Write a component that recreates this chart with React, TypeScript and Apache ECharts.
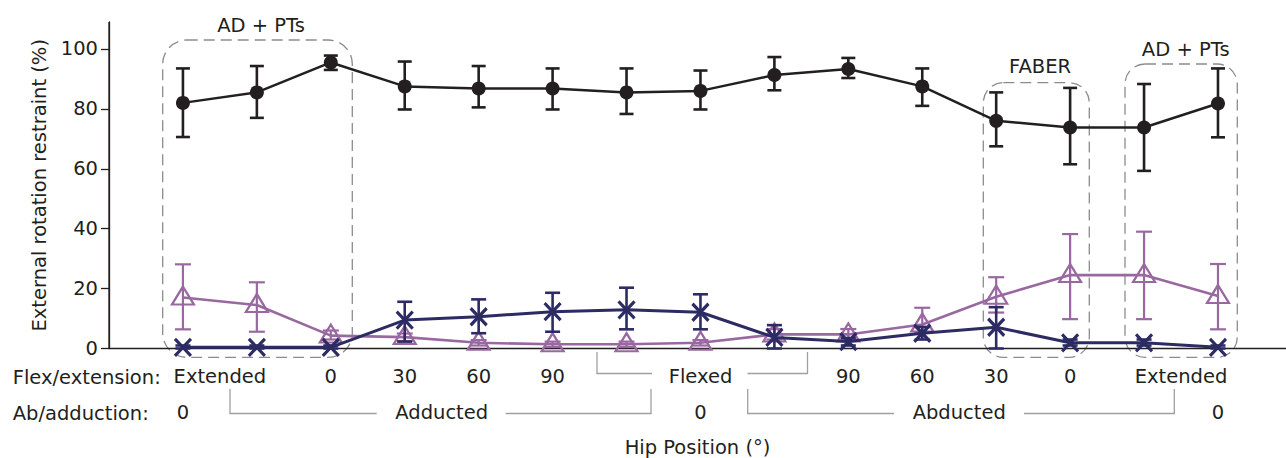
import React, { useEffect, useRef } from "react";
import * as echarts from "echarts";

// ---- data ----
const positions = [0, 1, 2, 3, 4, 5, 6, 7, 8, 9, 10, 11, 12, 13, 14];

const blackValues = [82, 85.5, 95.5, 87.5, 86.8, 86.8, 85.5, 86, 91.3, 93.3, 87.5, 76, 73.8, 73.8, 81.8];
const blackLow = [70.6, 77, 93, 79.8, 80.5, 79.8, 78.3, 79.8, 86.2, 90.3, 81, 67.5, 61.5, 59.3, 70.5];
const blackHigh = [93.5, 94.3, 97.8, 95.8, 94.3, 93.5, 93.5, 92.8, 97.3, 97, 93.5, 85.5, 87, 88.3, 93.5];

const purpleValues = [17, 14.5, 4.3, 3.8, 1.9, 1.4, 1.4, 1.9, 4.7, 4.7, 8, 17.3, 24.5, 24.5, 17.5];
const purpleLow = [6.4, 5.6, 3, 2.5, 1, 0.5, 0.5, 1, 3, 3, 5.5, 12, 9.8, 9.8, 6.4];
const purpleHigh = [28.1, 22.1, 6, 5, 2.8, 2.3, 2.3, 2.8, 6.5, 6.5, 13.6, 23.8, 38.2, 39, 28.2];

const navyValues = [0.4, 0.4, 0.4, 9.5, 10.6, 12.3, 12.9, 12.1, 3.7, 2.3, 5.1, 7.1, 1.9, 1.9, 0.4];
const navyLow = [0, 0, 0, 2.3, 5.1, 5.6, 6.4, 6.4, 0, 1, 3, 0, 1, 1, 0];
const navyHigh = [1, 1, 1, 15.6, 16.4, 18.6, 20.3, 18.1, 7.8, 3.5, 7.2, 13.8, 3, 3, 1];

const yTicks = [0, 20, 40, 60, 80, 100];
const Y_MIN = 0;
const Y_MAX = 109;
const X_MIN = -1;
const X_MAX = 14.92;

const flexTickValues = [0.5, 2, 3, 4, 5, 7, 9, 10, 11, 12, 13.5];
const flexTickLabels = ["Extended", "0", "30", "60", "90", "Flexed", "90", "60", "30", "0", "Extended"];

const abTickValues = [0, 3.5, 7, 10.5, 14];
const abTickLabels = ["0", "Adducted", "0", "Abducted", "0"];

// ---- styles ----
const FONT = "DejaVu Sans";
const FS = 19.5;
const TXT = "#231f20";
const BLACK = "#231f20";
const PURPLE = "#9a68a0";
const NAVY = "#2c2b63";
const GREY = "#8c8c8c";
const BRACKET = "#a0a0a0";

const lookup = (vals: number[], labels: string[]) => (v: number) => {
  const i = vals.findIndex((t) => Math.abs(t - v) < 1e-6);
  return i >= 0 ? labels[i] : "";
};

function errorSeries(name: string, low: number[], high: number[], color: string, width: number, capW: number, z: number) {
  return {
    type: "custom",
    name,
    z,
    clip: false,
    data: positions.map((x, i) => [x, low[i], high[i]]),
    encode: { x: 0, y: [1, 2] },
    renderItem: (params: any, api: any) => {
      const x = api.value(0);
      const lo = api.coord([x, api.value(1)]);
      const hi = api.coord([x, api.value(2)]);
      const hw = capW / 2;
      const style = { stroke: color, lineWidth: width, fill: "none" };
      return {
        type: "group",
        children: [
          { type: "line", shape: { x1: lo[0], y1: lo[1], x2: hi[0], y2: hi[1] }, style },
          { type: "line", shape: { x1: lo[0] - hw, y1: lo[1], x2: lo[0] + hw, y2: lo[1] }, style },
          { type: "line", shape: { x1: hi[0] - hw, y1: hi[1], x2: hi[0] + hw, y2: hi[1] }, style },
        ],
      };
    },
  };
}

const txt = (text: string, x: number, y: number, align = "center") => ({
  type: "text",
  x,
  y,
  style: { text, fill: TXT, fontSize: FS, fontFamily: FONT, align, verticalAlign: "middle" },
});

const bracket = (pts: number[][]) => ({
  type: "polyline",
  shape: { points: pts },
  style: { stroke: BRACKET, lineWidth: 1.3, fill: "none" },
});

const box = (x: number, y: number, w: number, h: number, r: number) => ({
  type: "rect",
  shape: { x, y, width: w, height: h, r },
  style: { stroke: GREY, lineWidth: 1.3, fill: "none", lineDash: [11, 6] },
});

export default function App() {
  const ref = useRef<HTMLDivElement>(null);

  useEffect(() => {
    if (!ref.current) return;
    const chart = echarts.init(ref.current, undefined, { renderer: "svg" });

    const axisCommon = {
      type: "value",
      min: X_MIN,
      max: X_MAX,
      splitLine: { show: false },
      axisTick: { show: false },
    };

    const option: any = {
      animation: false,
      backgroundColor: "#ffffff",
      textStyle: { fontFamily: FONT },
      grid: { left: 109, right: 0, top: 22, bottom: 109.5, containLabel: false, outerBoundsMode: "none" },
      xAxis: [
        {
          ...axisCommon,
          position: "bottom",
          axisLine: { show: true, onZero: false, lineStyle: { color: BLACK, width: 1.3 } },
          axisLabel: {
            customValues: flexTickValues,
            formatter: lookup(flexTickValues, flexTickLabels),
            fontSize: FS,
            fontFamily: FONT,
            color: TXT,
            margin: 18,
          },
        },
        {
          ...axisCommon,
          position: "bottom",
          offset: 36,
          axisLine: { show: false, onZero: false },
          axisLabel: {
            customValues: abTickValues,
            formatter: lookup(abTickValues, abTickLabels),
            fontSize: FS,
            fontFamily: FONT,
            color: TXT,
            margin: 18,
          },
          name: "Hip Position (°)",
          nameLocation: "middle",
          nameGap: 53,
          nameTextStyle: { fontSize: FS, fontFamily: FONT, color: TXT },
        },
      ],
      yAxis: {
        type: "value",
        min: Y_MIN,
        max: Y_MAX,
        position: "left",
        splitLine: { show: false },
        axisLine: { show: true, onZero: false, lineStyle: { color: BLACK, width: 1.3 } },
        axisTick: { show: true, length: 8, customValues: yTicks, lineStyle: { color: BLACK, width: 1.3 } },
        axisLabel: { customValues: yTicks, fontSize: FS, fontFamily: FONT, color: TXT, margin: 11 },
        name: "External rotation restraint (%)",
        nameLocation: "middle",
        nameGap: 58,
        nameTextStyle: { fontSize: FS, fontFamily: FONT, color: TXT },
      },
      series: [
        {
          type: "line",
          name: "Purple",
          z: 2,
          data: positions.map((x, i) => [x, purpleValues[i]]),
          symbol: "triangle",
          symbolSize: [22, 18],
          symbolOffset: [0, -2],
          lineStyle: { color: PURPLE, width: 2.6 },
          itemStyle: { color: "transparent", borderColor: PURPLE, borderWidth: 2.2 },
        },
        errorSeries("Purple SD", purpleLow, purpleHigh, PURPLE, 2.2, 16, 3),
        {
          type: "line",
          name: "Navy",
          z: 4,
          data: positions.map((x, i) => [x, navyValues[i]]),
          symbol: "path://M0,0L10,10M10,0L0,10",
          symbolSize: [16, 17],
          lineStyle: { color: NAVY, width: 3 },
          itemStyle: { color: "transparent", borderColor: NAVY, borderWidth: 3.2 },
        },
        errorSeries("Navy SD", navyLow, navyHigh, NAVY, 2.6, 15, 5),
        {
          type: "line",
          name: "Black",
          z: 6,
          data: positions.map((x, i) => [x, blackValues[i]]),
          symbol: "circle",
          symbolSize: 14,
          lineStyle: { color: BLACK, width: 2.5 },
          itemStyle: { color: BLACK, borderWidth: 0 },
        },
        errorSeries("Black SD", blackLow, blackHigh, BLACK, 2.6, 14, 7),
      ],
      graphic: [
        box(162.7, 40, 189.6, 317.3, 24),
        box(983.3, 82.7, 106, 274.6, 20),
        box(1125, 64, 112.3, 293.3, 20),
        txt("AD + PTs", 261, 25),
        txt("FABER", 1040, 66.7),
        txt("AD + PTs", 1185.7, 49.3),
        txt("Flex/extension:", 12.7, 377, "left"),
        txt("Ab/adduction:", 12.7, 413, "left"),
        bracket([[597, 352], [597, 373.5], [652, 373.5]]),
        bracket([[747.5, 373.5], [807.5, 373.5], [807.5, 352]]),
        bracket([[230, 389], [230, 413.5], [376.7, 413.5]]),
        bracket([[505.7, 413.5], [651, 413.5], [651, 389]]),
        bracket([[747.7, 389], [747.7, 413.5], [894, 413.5]]),
        bracket([[1024, 413.5], [1174.3, 413.5], [1174.3, 389]]),
      ],
    };

    chart.setOption(option);

    // y-axis spine, tied to the axes' own scales
    const p0 = chart.convertToPixel({ gridIndex: 0 }, [X_MIN, Y_MIN]) as number[];
    const p1 = chart.convertToPixel({ gridIndex: 0 }, [X_MIN, Y_MAX]) as number[];
    chart.setOption({
      graphic: [
        ...option.graphic,
        {
          type: "line",
          z: 10,
          shape: { x1: p0[0], y1: p0[1], x2: p1[0], y2: p1[1] },
          style: { stroke: BLACK, lineWidth: 1.3 },
        },
      ],
    });

    return () => chart.dispose();
  }, []);

  return (
    <div
      ref={ref}
      style={{ position: "absolute", left: 0, top: 0, width: 1286, height: 458, background: "#fff" }}
    />
  );
}
